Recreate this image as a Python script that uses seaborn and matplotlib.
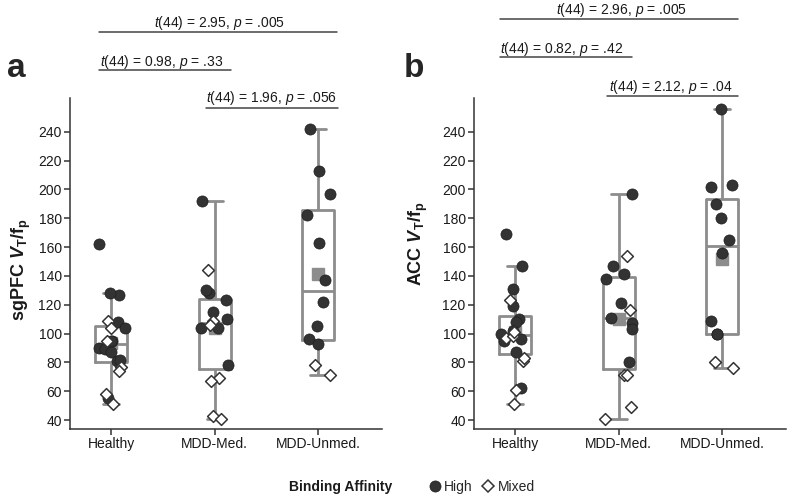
import numpy as np
import pandas as pd
import matplotlib.pyplot as plt
from matplotlib.lines import Line2D
import seaborn as sns

groups = ["Healthy", "MDD-Med.", "MDD-Unmed."]

# panel a: sgPFC VT/fp
sgpfc_healthy_high = [162, 127, 128, 108, 104, 95, 95, 90, 89, 87, 81, 82, 55]
sgpfc_healthy_mixed = [109, 104, 95, 77, 74, 58, 51]
sgpfc_med_high = [192, 128, 123, 130, 115, 110, 104, 104, 78]
sgpfc_med_mixed = [144, 109, 106, 69, 67, 43, 41]
sgpfc_unmed_high = [242, 213, 197, 182, 163, 137, 122, 105, 96, 93]
sgpfc_unmed_mixed = [78, 71]

# panel b: ACC VT/fp
acc_healthy_high = [169, 147, 131, 119, 110, 108, 102, 100, 95, 96, 87, 62]
acc_healthy_mixed = [123, 97, 98, 101, 81, 83, 61, 51]
acc_med_high = [197, 141, 138, 147, 121, 111, 107, 103, 80]
acc_med_mixed = [154, 116, 71, 71, 49, 41]
acc_unmed_high = [256, 203, 202, 190, 180, 165, 156, 109, 100, 100]
acc_unmed_mixed = [76, 80]

yticks = list(range(40, 241, 20))

stats_a = ["$\\mathit{t}$(44) = 2.95, $\\mathit{p}$ = .005",
           "$\\mathit{t}$(44) = 0.98, $\\mathit{p}$ = .33",
           "$\\mathit{t}$(44) = 1.96, $\\mathit{p}$ = .056"]
stats_b = ["$\\mathit{t}$(44) = 2.96, $\\mathit{p}$ = .005",
           "$\\mathit{t}$(44) = 0.82, $\\mathit{p}$ = .42",
           "$\\mathit{t}$(44) = 2.12, $\\mathit{p}$ = .04"]


def long_table(parts):
    rows = []
    for grp, (hi, mx) in zip(groups, parts):
        rows += [(grp, "High", v) for v in hi]
        rows += [(grp, "Mixed", v) for v in mx]
    return pd.DataFrame(rows, columns=["group", "affinity", "value"])


data_a = long_table([(sgpfc_healthy_high, sgpfc_healthy_mixed),
                     (sgpfc_med_high, sgpfc_med_mixed),
                     (sgpfc_unmed_high, sgpfc_unmed_mixed)])
data_b = long_table([(acc_healthy_high, acc_healthy_mixed),
                     (acc_med_high, acc_med_mixed),
                     (acc_unmed_high, acc_unmed_mixed)])

sns.set_theme(style="ticks")
plt.rcParams["font.family"] = ["Liberation Sans", "DejaVu Sans"]
plt.rcParams["mathtext.fontset"] = "custom"
plt.rcParams["mathtext.rm"] = "Liberation Sans"
plt.rcParams["mathtext.it"] = "Liberation Sans:italic"
plt.rcParams["mathtext.bf"] = "Liberation Sans:bold"
plt.rcParams["mathtext.bfit"] = "Liberation Sans:italic:bold"

W, H = 787, 498
BOX = "#8c8c8c"
DARK = "#333333"
fig = plt.figure(figsize=(W / 100, H / 100), dpi=100)
np.random.seed(7)


def px(x, y):
    return x / W, 1 - y / H


def panel(left_px, data, ylabel, label_x, label_y):
    ax = fig.add_axes([left_px / W, 1 - 429 / H, 312 / W, 331 / H])
    sns.boxplot(data=data, x="group", y="value", order=groups, width=0.31,
                fill=False, color=BOX, linewidth=2, showfliers=False,
                showmeans=True,
                meanprops=dict(marker="s", markerfacecolor=BOX,
                               markeredgecolor=BOX, markersize=8),
                ax=ax)
    sns.stripplot(data=data[data["affinity"] == "High"], x="group", y="value",
                  order=groups, jitter=0.14, color=DARK, size=8,
                  edgecolor="#1e1e1e", linewidth=0.5, ax=ax, zorder=3)
    sns.stripplot(data=data[data["affinity"] == "Mixed"], x="group", y="value",
                  order=groups, jitter=0.14, color="white", marker="D", size=6,
                  edgecolor=DARK, linewidth=1.1, ax=ax, zorder=3)
    ax.set_xlim(-0.4, 2.62)
    ax.set_ylim(33.8, 263.4)
    ax.set_yticks(yticks)
    ax.set_xlabel("")
    ax.set_ylabel(ylabel, fontsize=13, fontweight="bold", color="#1a1a1a")
    ax.yaxis.set_label_coords(label_x, label_y)
    sns.despine(ax=ax)
    for s in ["left", "bottom"]:
        ax.spines[s].set_color(DARK)
        ax.spines[s].set_linewidth(1.1)
    ax.tick_params(direction="out", length=4, width=1.1, color=DARK,
                   labelsize=10, labelcolor="#1a1a1a", pad=2)
    return ax


panel(70, data_a, "sgPFC $\\mathbfit{V}_\\mathbf{T}\\mathbf{/f}_\\mathbf{p}$",
      -0.119, 0.48)
panel(474, data_b, "ACC $\\mathbfit{V}_\\mathbf{T}\\mathbf{/f}_\\mathbf{p}$",
      -0.141, 0.559)


def bracket(text, x0, x1, y_line, tx, ty, ha):
    fig.add_artist(Line2D([x0 / W, x1 / W], [1 - y_line / H] * 2,
                          transform=fig.transFigure, color="#444444", lw=1.1))
    fig.text(*px(tx, ty), text, ha=ha, va="baseline", fontsize=10,
             color="#1a1a1a")


bracket(stats_a[0], 99, 337, 32.5, 220, 27, "center")
bracket(stats_a[1], 99, 231, 70, 100, 66, "left")
bracket(stats_a[2], 206, 338, 108, 337, 102, "right")
bracket(stats_b[0], 500, 738, 19, 622, 14, "center")
bracket(stats_b[1], 500, 632, 57, 500, 53, "left")
bracket(stats_b[2], 607, 738, 96, 733, 91, "right")

fig.text(*px(7, 77), "a", fontsize=24, fontweight="bold", va="baseline")
fig.text(*px(404, 77), "b", fontsize=24, fontweight="bold", va="baseline")

# legend
fig.text(*px(289, 487), "Binding Affinity", fontsize=10, fontweight="bold",
         va="center", ha="left", color="#1a1a1a")
handles = [
    Line2D([], [], ls="", marker="o", markersize=8, markerfacecolor=DARK,
           markeredgecolor="#1e1e1e", markeredgewidth=0.5),
    Line2D([], [], ls="", marker="D", markersize=6, markerfacecolor="white",
           markeredgecolor=DARK, markeredgewidth=1.1),
]
fig.legend(handles, ["High", "Mixed"], loc="center",
           bbox_to_anchor=px(482, 487), ncol=2, frameon=False, fontsize=10,
           handlelength=0.8, handletextpad=0.3, columnspacing=0.7)

fig.savefig("out.png", dpi=100)
plt.close(fig)
